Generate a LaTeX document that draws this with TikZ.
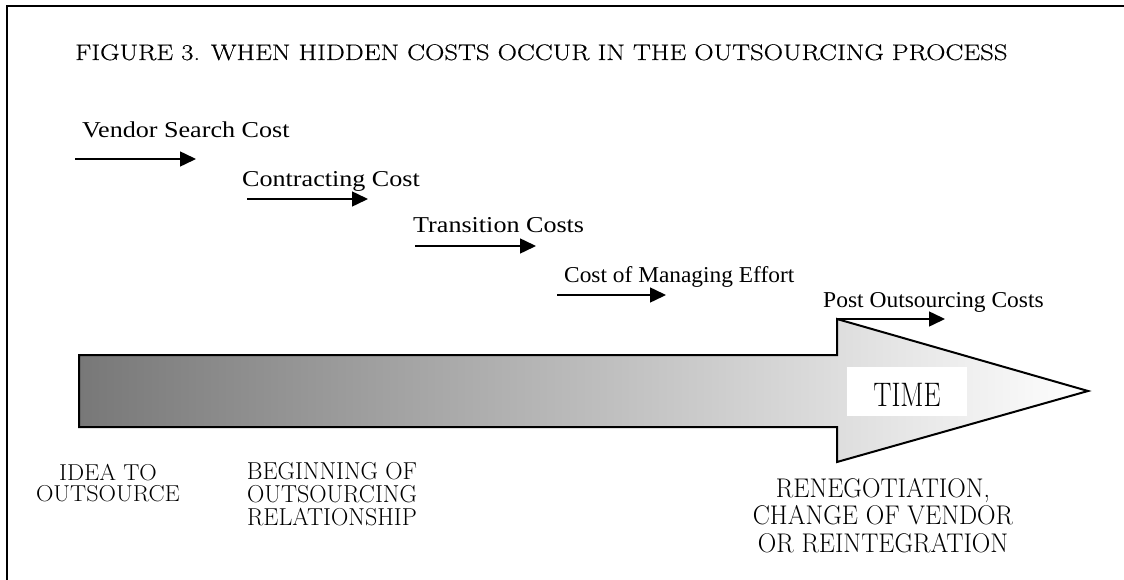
\documentclass[tikz,border=0pt]{standalone}
\usepackage{fontspec}
\newfontfamily\costfont[FakeStretch=1.15]{Liberation Serif}
\newfontfamily\capsfont{Latin Modern Roman}
\newfontfamily\titlefont[FakeStretch=1.19, FakeBold=0.4]{Latin Modern Roman}
\newfontfamily\timefont[FakeStretch=0.8]{Latin Modern Roman}
\usetikzlibrary{arrows.meta, positioning}

\begin{document}
\begin{tikzpicture}[x=1pt, y=-1pt,
    costlabel/.style={anchor=base west, inner sep=0pt, font=\costfont\fontsize{22.7}{27}\selectfont},
    costarrow/.style={line width=1.5pt, -{Triangle[length=16pt, width=15pt]}},
    milestone/.style={anchor=north, inner sep=0pt, align=center},
  ]
  \useasboundingbox (0,0) rectangle (1124,580);
  % frame, cut off at the right and bottom
  \draw[line width=2pt] (7,580) -- (7,6) -- (1124,6);

  \node[anchor=base west, inner sep=0pt, font=\titlefont\fontsize{22.5}{26}\selectfont] (title) at (75,60)
    {FIGURE 3. WHEN HIDDEN COSTS OCCUR IN THE OUTSOURCING PROCESS};

  % the time arrow
  \draw[line width=2pt, left color=black!53, middle color=black!19, right color=white]
    (79,355) -- (837,355) -- (837,319) -- (1088,391) -- (837,462) -- (837,427) -- (79,427) -- cycle;
  \node[anchor=base, fill=white, inner xsep=0pt, inner ysep=0pt, minimum width=120pt,
        text height=39pt, text depth=10pt, font=\timefont\fontsize{34}{40}\selectfont] (time) at (907,406) {TIME};

  % costs along the way
  \node[costlabel] (vendor) at (82,138) {Vendor Search Cost};
  \coordinate (vendor-a) at (75,159);
  \coordinate (vendor-b) at (196,159);
  \draw[costarrow] (vendor-a) -- (vendor-b);

  \node[costlabel] (contract) at (242,186) {Contracting Cost};
  \coordinate (contract-a) at (247,199);
  \coordinate (contract-b) at (368,199);
  \draw[costarrow] (contract-a) -- (contract-b);

  \node[costlabel] (transition) at (413,233) {Transition Costs};
  \coordinate (transition-a) at (415,246);
  \coordinate (transition-b) at (536,246);
  \draw[costarrow] (transition-a) -- (transition-b);

  \node[costlabel, font=\costfont\addfontfeature{FakeStretch=1.03}\fontsize{22.7}{27}\selectfont] (managing) at (564,282)
    {Cost of Managing Effort};
  \coordinate (managing-a) at (557,295);
  \coordinate (managing-b) at (666,295);
  \draw[costarrow] (managing-a) -- (managing-b);

  \node[costlabel, font=\costfont\addfontfeature{FakeStretch=1.035}\fontsize{22.7}{27}\selectfont] (post) at (823,307)
    {Post Outsourcing Costs};
  \coordinate (post-a) at (836,319);
  \coordinate (post-b) at (945,319);
  \draw[costarrow] (post-a) -- (post-b);

  % milestones under the arrow
  \node[milestone, font=\capsfont\addfontfeature{FakeStretch=1.05}\fontsize{23}{21}\selectfont] (idea) at (108,464)
    {IDEA TO\\OUTSOURCE};
  \node[milestone, font=\capsfont\addfontfeature{FakeStretch=0.98}\fontsize{24.5}{23}\selectfont] (begin) at (332,462)
    {BEGINNING OF\\OUTSOURCING\\RELATIONSHIP};
  \node[milestone, font=\capsfont\addfontfeature{FakeStretch=0.95}\fontsize{27}{27.5}\selectfont] (reneg) at (883,478)
    {RENEGOTIATION,\\CHANGE OF VENDOR\\OR REINTEGRATION};
\end{tikzpicture}
\end{document}
